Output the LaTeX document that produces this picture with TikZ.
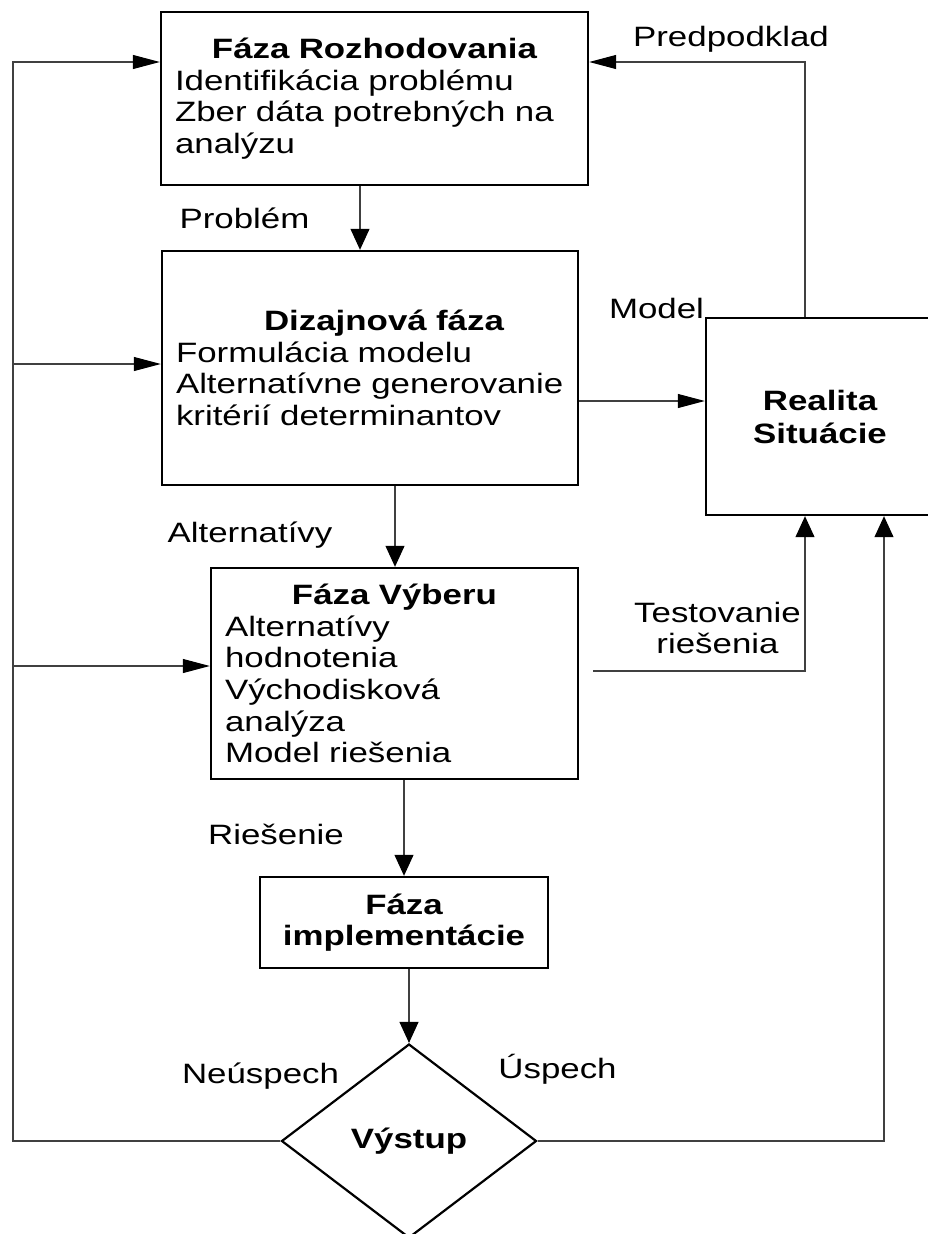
\documentclass[tikz,border=0pt]{standalone}
\usepackage{fontspec}
\setmainfont{Liberation Sans}[FakeStretch=1.245]
\usetikzlibrary{arrows.meta,shapes.geometric,calc}
\begin{document}
\begin{tikzpicture}[x=1pt,y=1pt,
  txt/.style={font=\fontsize{28}{31.7}\selectfont},
  box/.style={txt, draw, line width=2.4pt, rectangle, inner sep=14pt, align=left},
  lbl/.style={txt, inner sep=0pt, anchor=base},
  conn/.style={line width=1.1pt, draw=black!75},
  harr/.style={conn, -{Triangle[length=27pt,width=14pt,color=black]}},
  varr/.style={conn, -{Triangle[length=21pt,width=19pt,color=black]}}]
\useasboundingbox (0,0) rectangle (928,-1234);
\fill[white] (0,0) rectangle (928,-1234);

% boxes
\node[box, minimum width=427pt, minimum height=173pt, text width=399pt] (b1) at (374.5,-98.5)
  {{\centering\bfseries Fáza Rozhodovania\par}\mbox{Identifikácia problému}\\\mbox{Zber dáta potrebných na}\\analýzu};
\node[box, minimum width=416pt, minimum height=234pt, text width=388pt] (b2) at (370,-368)
  {{\centering\hspace*{28pt}\bfseries Dizajnová fáza\par}\mbox{Formulácia modelu}\\\mbox{Alternatívne generovanie}\\\mbox{kritérií determinantov}};
\node[box, minimum width=367pt, minimum height=211pt, text width=339pt] (b3) at (394.5,-673.5)
  {{\centering\bfseries Fáza Výberu\par}Alternatívy\\hodnotenia\\Východisková\\analýza\\\mbox{Model riešenia}};
\node[box, align=center, font=\fontsize{28}{31.7}\selectfont\bfseries, minimum width=288pt, minimum height=91pt] (b4) at (404,-922.5)
  {Fáza\\implementácie};
\node[box, align=center, font=\fontsize{28}{33}\selectfont\bfseries, minimum width=228pt, minimum height=197pt] (rs) at (820,-416.5)
  {Realita\\Situácie};
\node[txt, draw, diamond, line width=2.2pt, inner sep=0pt, minimum width=255pt, minimum height=194pt, font=\fontsize{28}{31.7}\selectfont\bfseries] (dia) at (409,-1141)
  {Výstup};

% labels
\node[lbl] (lP) at (731,-46) {Predpodklad};
\node[lbl] (lPr) at (244.5,-228) {Problém};
\node[lbl] (lM) at (656.5,-318) {Model};
\node[lbl] (lA) at (250,-542) {Alternatívy};
\node[lbl] (lT1) at (717.5,-622) {Testovanie};
\node[lbl] (lT2) at (717.5,-653) {riešenia};
\node[lbl] (lR) at (276,-844) {Riešenie};
\node[lbl] (lN) at (260.5,-1083) {Neúspech};
\node[lbl] (lU) at (557.5,-1078) {Úspech};

% helper coordinates
\coordinate (xl) at (13,0);
\coordinate (xp) at (805,0);
\coordinate (xu) at (884,0);
\coordinate (xa) at (360,0);
\coordinate (xb) at (395,0);
\coordinate (xt) at (593,0);
\coordinate (y1) at (0,-62);
\coordinate (y2) at (0,-364);
\coordinate (y3) at (0,-666);
\coordinate (ym) at (0,-401);
\coordinate (yt) at (0,-671);

% connectors
\draw[varr] (b1.south -| xa) -- (b2.north -| xa);
\draw[varr] (b2.south -| xb) -- (b3.north -| xb);
\draw[varr] (b3.south -| b4.north) -- (b4.north);
\draw[varr] (b4.south -| dia.north) -- (dia.north);
\draw[harr] (b2.east |- ym) -- (rs.west |- ym);
\draw[harr] (rs.north -| xp) |- (b1.east |- y1);
\draw[varr] (xt |- yt) -| (rs.south -| xp);
\draw[varr] (dia.east) -| (rs.south -| xu);
\draw[harr] (dia.west) -| (xl |- y1) -- (b1.west |- y1);
\draw[harr] (xl |- y2) -- (b2.west |- y2);
\draw[harr] (xl |- y3) -- (b3.west |- y3);
\end{tikzpicture}
\end{document}
